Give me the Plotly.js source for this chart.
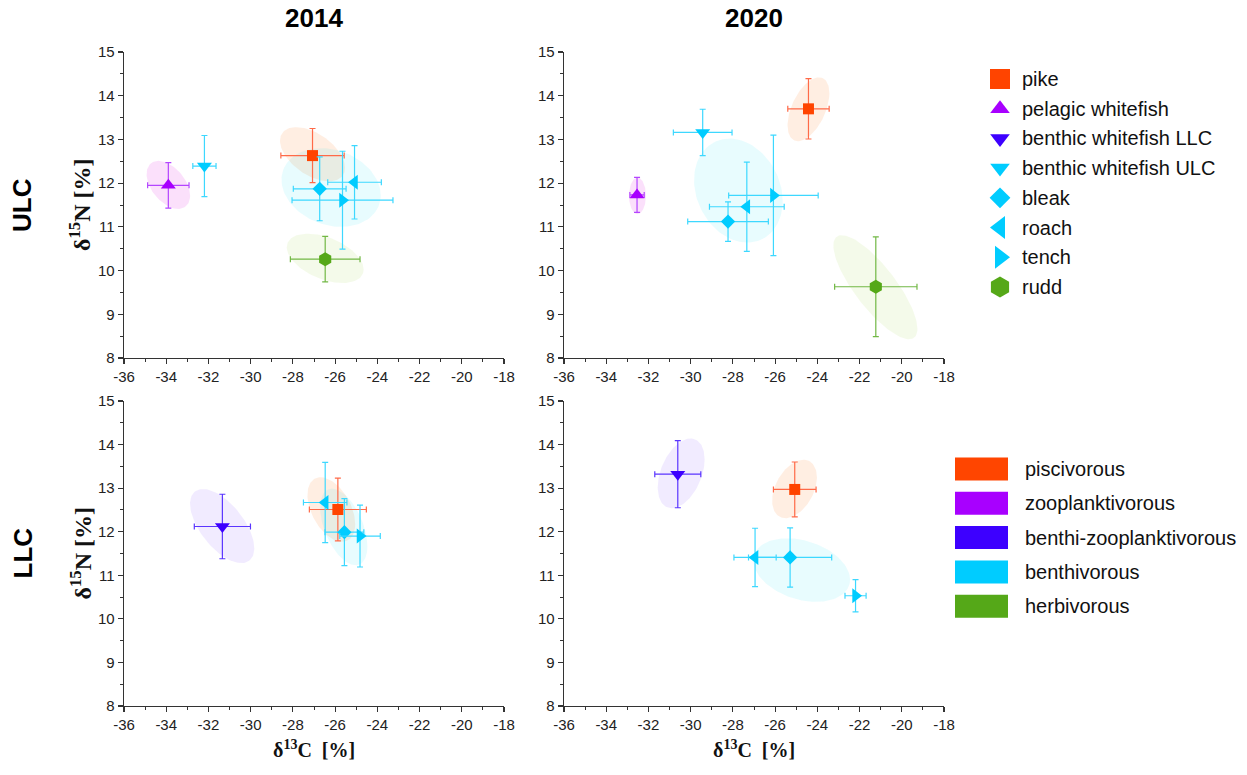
<!DOCTYPE html>
<html>
<head>
<meta charset="utf-8">
<script src="https://cdn.plot.ly/plotly-3.0.1.min.js"></script>
<style>html,body{margin:0;padding:0;background:#fff}#chart{width:1247px;height:775px}</style>
</head>
<body>
<div id="chart"></div>
<script>
// ---------------- DATA ----------------
const speciesNames = ['pike','pelagic whitefish','benthic whitefish LLC','benthic whitefish ULC','bleak','roach','tench','rudd'];
const dietGroups = ['piscivorous','zooplanktivorous','benthi-zooplanktivorous','benthivorous','herbivorous'];
const xTickVals = [-36,-34,-32,-30,-28,-26,-24,-22,-20,-18];
const yTickVals = [8,9,10,11,12,13,14,15];
const columnTitles = ['2014','2020'];
const rowTitles = ['ULC','LLC'];

// ULC 2014
const ulc2014_species = ['pike','pelagic whitefish','benthic whitefish ULC','bleak','roach','tench','rudd'];
const ulc2014_x    = [-27.07,-33.90,-32.19,-26.73,-25.08,-25.65,-26.47];
const ulc2014_y    = [12.63, 11.95, 12.39, 11.87, 12.02, 11.61, 10.26];
const ulc2014_xerr = [1.50, 0.98, 0.55, 1.25, 1.27, 2.39, 1.65];
const ulc2014_yerr = [0.62, 0.52, 0.70, 0.73, 0.84, 1.12, 0.52];
const ulc2014_ellGroup = ['piscivorous','zooplanktivorous','benthivorous','herbivorous'];
const ulc2014_ellCx  = [-27.07,-33.90,-26.19,-26.47];
const ulc2014_ellCy  = [12.66, 11.96, 11.90, 10.28];
const ulc2014_ellSx  = [1.54, 1.03, 2.35, 1.82];
const ulc2014_ellSy  = [0.62, 0.55, 0.90, 0.565];
const ulc2014_ellRho = [-0.5,-0.45,-0.2,-0.45];

// ULC 2020
const ulc2020_species = ['pike','pelagic whitefish','benthic whitefish ULC','bleak','roach','tench','rudd'];
const ulc2020_x    = [-24.42,-32.54,-29.43,-28.23,-27.34,-26.08,-21.23];
const ulc2020_y    = [13.70, 11.73, 13.16, 11.12, 11.46, 11.72, 9.63];
const ulc2020_xerr = [0.98, 0.34, 1.39, 1.91, 1.77, 2.12, 1.95];
const ulc2020_yerr = [0.69, 0.40, 0.53, 0.45, 1.02, 1.38, 1.14];
const ulc2020_ellGroup = ['piscivorous','zooplanktivorous','benthivorous','herbivorous'];
const ulc2020_ellCx  = [-24.42,-32.52,-27.74,-21.25];
const ulc2020_ellCy  = [13.69, 11.71, 11.83, 9.62];
const ulc2020_ellSx  = [0.99, 0.40, 2.10, 1.99];
const ulc2020_ellSy  = [0.73, 0.42, 1.19, 1.19];
const ulc2020_ellRho = [0.5, 0.0, -0.2, -0.8];

// LLC 2014
const llc2014_species = ['pike','benthic whitefish LLC','bleak','roach','tench'];
const llc2014_x    = [-25.87,-31.34,-25.56,-26.47,-24.82];
const llc2014_y    = [12.51, 12.12, 11.99, 12.67, 11.90];
const llc2014_xerr = [1.35, 1.33, 0.92, 1.03, 0.96];
const llc2014_yerr = [0.72, 0.74, 0.77, 0.92, 0.71];
const llc2014_ellGroup = ['piscivorous','benthi-zooplanktivorous','benthivorous'];
const llc2014_ellCx  = [-26.18,-31.35,-25.59];
const llc2014_ellCy  = [12.51, 12.13, 12.11];
const llc2014_ellSx  = [1.13, 1.52, 1.12];
const llc2014_ellSy  = [0.74, 0.85, 0.88];
const llc2014_ellRho = [-0.45,-0.6,-0.5];

// LLC 2020
const llc2020_species = ['pike','benthic whitefish LLC','bleak','roach','tench'];
const llc2020_x    = [-25.07,-30.61,-25.29,-26.95,-22.19];
const llc2020_y    = [12.97, 13.32, 11.41, 11.41, 10.53];
const llc2020_xerr = [1.01, 1.09, 1.97, 1.00, 0.50];
const llc2020_yerr = [0.63, 0.77, 0.68, 0.67, 0.37];
const llc2020_ellGroup = ['piscivorous','benthi-zooplanktivorous','benthivorous'];
const llc2020_ellCx  = [-25.08,-30.45,-24.74];
const llc2020_ellCy  = [12.98, 13.34, 11.12];
const llc2020_ellSx  = [1.06, 1.11, 2.29];
const llc2020_ellSy  = [0.67, 0.80, 0.73];
const llc2020_ellRho = [0.4, 0.4, -0.3];

// ---------------- STYLES ----------------
const speciesStyle = {
  'pike':                  {symbol:'square',        size:11, color:'#FF4400', err:'#FF6A48'},
  'pelagic whitefish':     {symbol:'triangle-up',   size:13, color:'#A800FF', err:'#B445FF'},
  'benthic whitefish LLC': {symbol:'triangle-down', size:13, color:'#3D00FF', err:'#5A35FF'},
  'benthic whitefish ULC': {symbol:'triangle-down', size:13, color:'#00CCFF', err:'#3DD8FF'},
  'bleak':                 {symbol:'diamond',       size:11, color:'#00CCFF', err:'#3DD8FF'},
  'roach':                 {symbol:'triangle-left', size:13, color:'#00CCFF', err:'#3DD8FF'},
  'tench':                 {symbol:'triangle-right',size:13, color:'#00CCFF', err:'#3DD8FF'},
  'rudd':                  {symbol:'hexagon',       size:14, color:'#55A818', err:'#72B845'}
};
const legendSymbolSize = {'pike':20,'pelagic whitefish':17,'benthic whitefish LLC':17,'benthic whitefish ULC':17,'bleak':16,'roach':20,'tench':20,'rudd':21};
const dietColor = {
  'piscivorous':'#FF4500','zooplanktivorous':'#A800FF','benthi-zooplanktivorous':'#3D00FF',
  'benthivorous':'#00CCFF','herbivorous':'#55A818'
};
const dietFill = {
  'piscivorous':'rgba(255,140,60,0.15)','zooplanktivorous':'rgba(220,0,220,0.12)',
  'benthi-zooplanktivorous':'rgba(120,60,255,0.10)','benthivorous':'rgba(0,225,240,0.09)',
  'herbivorous':'rgba(150,210,50,0.10)'
};

const W = 1247, H = 775;
const panels = [
  {sp:ulc2014_species,x:ulc2014_x,y:ulc2014_y,xe:ulc2014_xerr,ye:ulc2014_yerr,eg:ulc2014_ellGroup,ecx:ulc2014_ellCx,ecy:ulc2014_ellCy,esx:ulc2014_ellSx,esy:ulc2014_ellSy,er:ulc2014_ellRho,xa:'x',ya:'y', px:[124,504], py:[52,358]},
  {sp:ulc2020_species,x:ulc2020_x,y:ulc2020_y,xe:ulc2020_xerr,ye:ulc2020_yerr,eg:ulc2020_ellGroup,ecx:ulc2020_ellCx,ecy:ulc2020_ellCy,esx:ulc2020_ellSx,esy:ulc2020_ellSy,er:ulc2020_ellRho,xa:'x2',ya:'y2', px:[564,944], py:[52,358]},
  {sp:llc2014_species,x:llc2014_x,y:llc2014_y,xe:llc2014_xerr,ye:llc2014_yerr,eg:llc2014_ellGroup,ecx:llc2014_ellCx,ecy:llc2014_ellCy,esx:llc2014_ellSx,esy:llc2014_ellSy,er:llc2014_ellRho,xa:'x3',ya:'y3', px:[124,504], py:[401,706]},
  {sp:llc2020_species,x:llc2020_x,y:llc2020_y,xe:llc2020_xerr,ye:llc2020_yerr,eg:llc2020_ellGroup,ecx:llc2020_ellCx,ecy:llc2020_ellCy,esx:llc2020_ellSx,esy:llc2020_ellSy,er:llc2020_ellRho,xa:'x4',ya:'y4', px:[564,944], py:[401,706]}
];

function ellipsePts(cx, cy, sx, sy, rho){
  const xs=[], ys=[], k=Math.sqrt(1-rho*rho);
  for(let i=0;i<=120;i++){
    const t = 2*Math.PI*i/120;
    xs.push(cx + sx*Math.cos(t));
    ys.push(cy + sy*(rho*Math.cos(t) + k*Math.sin(t)));
  }
  return {xs, ys};
}

const traces = [];
panels.forEach(p => {
  p.eg.forEach((g,i) => {
    const e = ellipsePts(p.ecx[i], p.ecy[i], p.esx[i], p.esy[i], p.er[i]);
    traces.push({type:'scatter', mode:'lines', x:e.xs, y:e.ys, xaxis:p.xa, yaxis:p.ya,
      fill:'toself', fillcolor:dietFill[g], line:{width:0, color:'rgba(0,0,0,0)'},
      hoverinfo:'skip', showlegend:false, name:g});
  });
});
panels.forEach(p => {
  p.sp.forEach((s,i) => {
    const st = speciesStyle[s];
    traces.push({type:'scatter', mode:'markers', x:[p.x[i]], y:[p.y[i]], xaxis:p.xa, yaxis:p.ya,
      name:s, showlegend:false,
      marker:{symbol:st.symbol, size:st.size, color:st.color, line:{width:0}},
      error_x:{type:'data', array:[p.xe[i]], color:st.err, thickness:1.2, width:3},
      error_y:{type:'data', array:[p.ye[i]], color:st.err, thickness:1.2, width:3}});
  });
});

// custom legend (species) drawn in a pixel-unit overlay axis
const legX0 = 950;
speciesNames.forEach((s,i) => {
  const st = speciesStyle[s];
  traces.push({type:'scatter', mode:'markers', x:[1000], y:[79 + i*29.7], xaxis:'x5', yaxis:'y5',
    showlegend:false, hoverinfo:'skip', cliponaxis:false,
    marker:{symbol:st.symbol, size:legendSymbolSize[s], color:st.color, line:{width:0}}});
});

const annotations = [];
const shapes = [];
speciesNames.forEach((s,i) => {
  annotations.push({xref:'x5', yref:'y5', x:1020, y:79 + i*29.7, text:s, showarrow:false,
    xanchor:'left', yanchor:'middle', font:{family:'Arial, Liberation Sans, sans-serif', size:20, color:'#111'}});
});
dietGroups.forEach((g,i) => {
  const cy = 469 + i*34.3;
  shapes.push({type:'rect', xref:'x5', yref:'y5', x0:955, x1:1008, y0:cy-11.5, y1:cy+11.5,
    fillcolor:dietColor[g], line:{width:0}});
  annotations.push({xref:'x5', yref:'y5', x:1023, y:cy, text:g, showarrow:false,
    xanchor:'left', yanchor:'middle', font:{family:'Arial, Liberation Sans, sans-serif', size:20, color:'#111'}});
});

// titles
const boldSans = {family:'Arial, Liberation Sans, sans-serif', size:26, color:'#000'};
const serifTitle = {family:'Times New Roman, Liberation Serif, serif', size:20, color:'#111'};
const serifYTitle = {family:'Times New Roman, Liberation Serif, serif', size:24, color:'#111'};
columnTitles.forEach((t,i) => {
  const p = panels[i];
  annotations.push({xref:'paper', yref:'paper', x:(p.px[0]+p.px[1])/2/W, y:1-18/H, text:'<b>'+t+'</b>',
    showarrow:false, xanchor:'center', yanchor:'middle', font:boldSans});
});
rowTitles.forEach((t,i) => {
  const p = panels[i*2];
  annotations.push({xref:'paper', yref:'paper', x:22/W, y:1-((p.py[0]+p.py[1])/2)/H, text:'<b>'+t+'</b>',
    showarrow:false, xanchor:'center', yanchor:'middle', textangle:-90, font:boldSans});
  annotations.push({xref:'paper', yref:'paper', x:80/W, y:1-((p.py[0]+p.py[1])/2)/H,
    text:'<b>δ<sup>15</sup>N [%]</b>', showarrow:false, xanchor:'center', yanchor:'middle', textangle:-90, font:serifYTitle});
});
[2,3].forEach(k => {
  const p = panels[k];
  annotations.push({xref:'paper', yref:'paper', x:(p.px[0]+p.px[1])/2/W, y:1-749/H,
    text:'<b>δ<sup>13</sup>C\u00A0\u00A0[%]</b>', showarrow:false, xanchor:'center', yanchor:'middle', font:serifTitle});
});

function xAxis(p){
  return {domain:[p.px[0]/W, p.px[1]/W], range:[-36,-18], tickvals:xTickVals, ticktext:xTickVals.map(String),
    showgrid:false, zeroline:false, showline:true, linecolor:'#333', linewidth:1.3,
    ticks:'outside', ticklen:5, tickwidth:1.2, tickcolor:'#333',
    minor:{dtick:1, tick0:-36, ticks:'outside', ticklen:3, tickwidth:1, tickcolor:'#333', showgrid:false},
    tickfont:{family:'Arial, Liberation Sans, sans-serif', size:15, color:'#222'}, fixedrange:true};
}
function yAxis(p){
  return {domain:[1-p.py[1]/H, 1-p.py[0]/H], range:[8,15], tickvals:yTickVals, ticktext:yTickVals.map(String),
    showgrid:false, zeroline:false, showline:true, linecolor:'#333', linewidth:1.3,
    ticks:'outside', ticklen:5, tickwidth:1.2, tickcolor:'#333',
    minor:{dtick:0.5, tick0:8, ticks:'outside', ticklen:3, tickwidth:1, tickcolor:'#333', showgrid:false},
    tickfont:{family:'Arial, Liberation Sans, sans-serif', size:15, color:'#222'}, fixedrange:true};
}

const layout = {
  width:W, height:H, margin:{l:0,r:0,t:0,b:0}, paper_bgcolor:'#fff', plot_bgcolor:'rgba(0,0,0,0)',
  showlegend:false,
  xaxis:Object.assign(xAxis(panels[0]),{anchor:'y'}),  yaxis:Object.assign(yAxis(panels[0]),{anchor:'x'}),
  xaxis2:Object.assign(xAxis(panels[1]),{anchor:'y2'}), yaxis2:Object.assign(yAxis(panels[1]),{anchor:'x2'}),
  xaxis3:Object.assign(xAxis(panels[2]),{anchor:'y3'}), yaxis3:Object.assign(yAxis(panels[2]),{anchor:'x3'}),
  xaxis4:Object.assign(xAxis(panels[3]),{anchor:'y4'}), yaxis4:Object.assign(yAxis(panels[3]),{anchor:'x4'}),
  xaxis5:{domain:[legX0/W,1], range:[legX0,W], visible:false, fixedrange:true, anchor:'y5'},
  yaxis5:{domain:[0,1], range:[H,0], visible:false, fixedrange:true, anchor:'x5'},
  annotations, shapes
};

Plotly.newPlot('chart', traces, layout, {staticPlot:true, displayModeBar:false});
</script>
</body>
</html>
